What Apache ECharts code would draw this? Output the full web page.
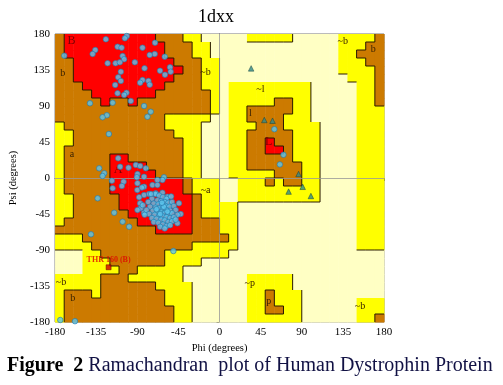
<!DOCTYPE html>
<html><head><meta charset="utf-8">
<script src="https://cdn.jsdelivr.net/npm/echarts@6/dist/echarts.min.js"></script>
<style>html,body{margin:0;padding:0;background:#fff;}#c{width:503px;height:385px;}</style>
</head><body><div id="c"></div>
<script>
// ---------- DATA ----------
const chartTitle = '1dxx';
const xAxisName = 'Phi (degrees)';
const yAxisName = 'Psi (degrees)';
const caption = ['Figure  2', ' Ramachandran  plot of Human Dystrophin Protein'];
const tickStep = 45;
// Region map: 36 rows (psi 180 -> -180), run-length [level,count] over 36 phi columns (-180 -> 180)
// level 3 core (red), 2 allowed (brown), 1 generous (yellow), 0 disallowed (pale)
const regionRuns = [
 [[2,1],[3,10],[2,3],[1,2],[0,5],[1,5],[0,5],[1,4],[2,1]],
 [[2,1],[3,11],[2,3],[1,2],[0,14],[1,3],[2,2]],
 [[2,1],[3,11],[2,3],[1,2],[0,14],[1,2],[2,3]],
 [[2,2],[3,11],[2,3],[1,2],[0,13],[1,3],[2,2]],
 [[2,2],[3,12],[2,2],[1,2],[0,13],[1,4],[2,1]],
 [[2,2],[3,11],[2,3],[1,2],[0,14],[1,3],[2,1]],
 [[2,3],[3,9],[2,4],[1,2],[0,1],[1,9],[0,5],[1,2],[2,1]],
 [[2,4],[3,7],[2,6],[1,1],[0,1],[1,9],[0,5],[1,2],[2,1]],
 [[2,5],[3,1],[2,2],[3,1],[2,8],[1,1],[0,1],[1,5],[2,2],[1,2],[0,5],[1,2],[2,1]],
 [[2,17],[1,1],[0,1],[1,2],[2,5],[1,2],[0,5],[1,3]],
 [[2,12],[1,5],[0,2],[1,2],[2,4],[1,3],[0,5],[1,3]],
 [[1,1],[2,11],[1,4],[0,3],[1,3],[2,3],[1,4],[0,4],[1,3]],
 [[1,2],[2,11],[1,3],[0,3],[1,2],[2,5],[1,3],[0,4],[1,3]],
 [[1,2],[2,12],[1,2],[0,3],[1,2],[2,2],[3,1],[2,2],[1,3],[0,4],[1,3]],
 [[1,1],[2,13],[1,2],[0,3],[1,2],[2,2],[3,2],[2,1],[1,3],[0,4],[1,3]],
 [[1,1],[2,5],[3,2],[2,6],[1,2],[0,3],[1,2],[2,5],[1,3],[0,4],[1,3]],
 [[1,1],[2,5],[3,4],[2,4],[1,2],[0,3],[1,2],[2,6],[1,2],[0,4],[1,3]],
 [[1,1],[2,5],[3,5],[2,3],[1,2],[0,3],[1,5],[2,3],[1,2],[0,4],[1,3]],
 [[1,1],[2,5],[3,8],[2,1],[1,3],[0,2],[1,3],[2,1],[1,1],[2,2],[1,2],[0,4],[1,3]],
 [[1,1],[2,5],[3,8],[2,1],[1,3],[0,2],[1,9],[0,4],[1,3]],
 [[1,2],[2,5],[3,8],[2,1],[1,2],[0,2],[1,9],[0,4],[1,3]],
 [[1,2],[2,5],[3,8],[2,1],[1,4],[0,13],[1,3]],
 [[1,2],[2,6],[3,7],[2,1],[1,4],[0,13],[1,3]],
 [[1,1],[2,8],[3,6],[2,3],[1,2],[0,13],[1,3]],
 [[2,11],[3,4],[2,3],[1,2],[0,13],[1,3]],
 [[1,3],[2,16],[1,1],[0,13],[1,3]],
 [[1,4],[2,11],[1,5],[0,13],[1,3]],
 [[0,3],[1,2],[2,7],[1,7],[0,17]],
 [[0,3],[1,3],[2,6],[1,4],[0,20]],
 [[0,3],[1,4],[2,2],[1,5],[0,22]],
 [[1,5],[2,3],[1,6],[0,7],[1,5],[0,10]],
 [[1,5],[2,6],[1,4],[0,6],[1,5],[0,10]],
 [[1,1],[2,3],[1,1],[2,7],[1,3],[0,6],[1,2],[2,1],[1,3],[0,9]],
 [[1,1],[2,11],[1,3],[0,6],[1,2],[2,1],[1,3],[0,6],[1,3]],
 [[1,1],[2,12],[1,2],[0,6],[1,2],[2,2],[1,2],[0,6],[1,3]],
 [[1,1],[2,12],[1,2],[0,6],[1,6],[0,6],[1,2],[2,1]]
];
const regionColors = ['#FFFFC4', '#FFFF00', '#CC7A00', '#FF0000'];
const regionLabels = [
 ['B',-162,171.7],['b',-171.6,130.9],['a',-161.5,30],['A',-110.9,10],
 ['~b',-15.3,131.6],['~l',44.7,110.9],['l',33.8,80.9],['L',53.8,45.4],
 ['~b',134.9,171.3],['b',168.3,160.9],['~a',-15.3,-15],['~p',33,-131.6],
 ['p',53.8,-153.8],['~b',153.8,-160.9],['~b',-173.5,-130.9],['b',-160.7,-150.4]
];
// non-glycine residues [phi, psi]
const residues = [
 [-169.9,152.9],[-124.4,173.4],[-101.5,177.5],[-103.6,174.6],[-70.6,169.1],[-136,160],[-138.9,155],
 [-111.6,164.1],[-107.2,162.9],[-84.3,162.9],[-70.9,155],[-76.4,153.8],[-60,151.6],[-106.1,152.5],
 [-104.4,148.4],[-122.5,143.4],[-113.8,143.4],[-109.1,144.6],[-92.7,144.6],[-54.2,138.4],[-82.1,137.1],
 [-65.1,134.1],[-108,132.9],[-53.5,132.9],[-59.7,129.1],[-110.9,125.9],[-108,121.3],[-84.3,122.5],
 [-77.8,121.3],[-86.9,119.1],[-114.2,116.3],[-76.4,116.6],[-101.8,106.6],[-111.6,105.9],[-104.4,103.8],
 [-97.1,96.3],[-141.8,93.4],[-117,94.1],[-82.6,90],[-75.3,82.9],[-123.3,78.4],[-128,75.9],[-78.9,76.6],
 [-121.1,55],
 [-110.9,24.6],[-131.7,12.1],[-126.2,5.9],[-128,2.5],[-108.8,14.1],[-99.6,12.9],[-91.6,16.3],[-86.9,15],
 [-80.7,12.1],[-89.8,5],[-90.5,0.9],[-60.8,0.9],[-82.6,1.6],[-62.5,-2.5],[-68,-2.5],[-117.8,-3.4],
 [-105,-4.6],[-106.9,-10],[-89.8,-6.6],[-82.6,-10.9],[-73.4,-8.8],[-68,-8.8],[-117,-12.9],[-82.6,-21.3],
 [-77.1,-20],[-69.8,-19.1],[-62.5,-18.4],[-57.1,-23.4],[-133.4,-25.4],[-44.4,-31.6],[-86.9,-31.6],
 [-86.2,-37.9],[-89.8,-40],[-82.6,-43.4],[-115.3,-43.4],[-42.5,-45],[-106.1,-54.6],[-98.9,-60.9],
 [-46.1,-56.6],[-140.7,-70.4],[-50.5,-91.3],
 [-70,-20],[-66,-22],[-62,-24],[-58,-26],[-74,-26],[-68,-28],[-64,-29],[-60,-30],[-56,-31],[-52,-30],
 [-78,-30],[-72,-32],[-67,-33],[-63,-34],[-59,-35],[-55,-36],[-50,-35],[-76,-36],[-70,-37],[-66,-38],
 [-62,-39],[-58,-40],[-54,-41],[-48,-40],[-80,-40],[-73,-41],[-68,-42],[-64,-43],[-60,-44],[-56,-45],
 [-52,-44],[-46,-46],[-77,-45],[-71,-46],[-66,-47],[-62,-48],[-58,-49],[-54,-50],[-50,-49],[-74,-50],
 [-69,-51],[-64,-52],[-60,-53],[-56,-55],[-52,-54],[-72,-55],[-67,-56],[-62,-58],[-58,-60],[-54,-59],
 [-65,-61],[-60,-63],[-84,-34],[-82,-46],[-88,-24],[-61,-36],[-65,-45],[-57,-42],[-69,-39],[-63,-31],
 [-75,-20],[-53,-23],[-48,-52],[-90,-15],[-85,-12],
 [60,61],[70,29],[66,17],
 [-174.3,-177.5],[-158.2,-179]
];
// glycine residues [phi, psi]
const glycines = [[34.6,137],[49,72.5],[58,71.6],[86.5,5],[91,-11],[75.6,-17],[100,-22.5]];
// labelled outlier
const outliers = [{name:'THR 160 (B)', value:[-121.4,-111.6]}];

// ---------- BUILD ----------
const rows = regionRuns.map(r => { const a=[]; r.forEach(([l,n])=>{for(let i=0;i<n;i++)a.push(l);}); while(a.length<36)a.push(0); return a.slice(0,36); });
const cells = [];
rows.forEach((row, r) => row.forEach((lv, c) => cells.push([-180 + 10*c, 170 - 10*r, lv])));
const lev = (r,c) => rows[r][c];
const drawEdge = (a, b) => a !== b && !(a === 0 && b === 1);
const segs = [];
for (let r=0;r<36;r++) for (let c=0;c<36;c++) {
  const a = lev(r,c);
  if (c<35 && drawEdge(a, lev(r,c+1))) { const x=-170+10*c; segs.push([x,180-10*r,x,170-10*r]); }
  if (r<35 && drawEdge(a, lev(r+1,c))) { const y=170-10*r; segs.push([-180+10*c,y,-170+10*c,y]); }
}
const serif = '"Liberation Serif","Times New Roman",serif';
const chart = echarts.init(document.getElementById('c'), null, {renderer:'canvas'});
const axisCommon = {
  type:'value', min:-180, max:180, interval:tickStep,
  axisLine:{show:true, lineStyle:{color:'#555', width:1}},
  axisTick:{show:true, length:3, lineStyle:{color:'#555'}},
  axisLabel:{color:'#000', fontFamily:serif, fontSize:11, margin:5},
  splitLine:{show:false},
  nameTextStyle:{color:'#000', fontFamily:serif, fontSize:10.5}
};
chart.setOption({
  animation:false,
  backgroundColor:'#fff',
  grid:{left:54, right:119, top:34, bottom:63, show:true, borderColor:'#777', borderWidth:1, backgroundColor:'transparent'},
  xAxis:Object.assign({}, axisCommon, {name:xAxisName, nameLocation:'middle', nameGap:20}),
  yAxis:Object.assign({}, axisCommon, {name:yAxisName, nameLocation:'middle', nameGap:32}),
  graphic:[
    {type:'text', left:198, top:8, style:{text:chartTitle, font:'18px '+serif, fill:'#000'}},
    {type:'text', left:7, top:356, style:{
      text:'{b|'+caption[0]+'}{n|'+caption[1]+'}',
      rich:{b:{font:'bold 20px '+serif, fill:'#000'}, n:{font:'20px '+serif, fill:'#111144'}}
    }}
  ],
  series:[
    {type:'custom', z:1, silent:true, data:cells, renderItem:(p, api) => {
      const x=api.value(0), y=api.value(1), l=api.value(2);
      const p0=api.coord([x, y+10]), p1=api.coord([x+10, y]);
      return {type:'rect', shape:{x:p0[0], y:p0[1], width:p1[0]-p0[0]+0.5, height:p1[1]-p0[1]+0.5}, style:{fill:regionColors[l]}};
    }},
    {type:'custom', z:3, silent:true, data:segs, renderItem:(p, api) => {
      const a=api.coord([api.value(0), api.value(1)]), b=api.coord([api.value(2), api.value(3)]);
      return {type:'line', shape:{x1:a[0], y1:a[1], x2:b[0], y2:b[1]}, style:{stroke:'#2a1a00', lineWidth:1}};
    },
    markLine:{silent:true, symbol:'none', label:{show:false}, lineStyle:{color:'#999', width:1, type:'solid', opacity:0.8}, data:[{xAxis:0},{yAxis:0}]}},
    {type:'custom', z:4, silent:true, data:regionLabels.map(d=>[d[1],d[2]]), renderItem:(p, api) => {
      const pt=api.coord([api.value(0), api.value(1)]);
      const t = regionLabels[p.dataIndex][0];
      const big = (t==='B'||t==='A'||t==='L');
      return {type:'text', x:pt[0], y:pt[1], style:{text:t, font:(big?'12px ':'10px ')+serif, fill: big ? '#7a0000' : '#3a2200', align:'center', verticalAlign:'middle'}};
    }},
    {type:'scatter', z:5, data:residues, symbol:'circle', symbolSize:5.5,
      itemStyle:{color:'#5CC6EE', borderColor:'#2277AA', borderWidth:0.8}},
    {type:'scatter', z:5, data:glycines, symbol:'triangle', symbolSize:5.5,
      itemStyle:{color:'#2F8A8A', borderColor:'#0E3A3A', borderWidth:0.6}},
    {type:'scatter', z:6, data:outliers, symbol:'rect', symbolSize:5,
      itemStyle:{color:'#D00000', borderColor:'#600000', borderWidth:0.6},
      label:{show:true, position:'top', distance:1, formatter:'{b}', color:'#E00000', fontFamily:serif, fontSize:8, fontWeight:'bold'}}
  ]
});
</script>
</body></html>
